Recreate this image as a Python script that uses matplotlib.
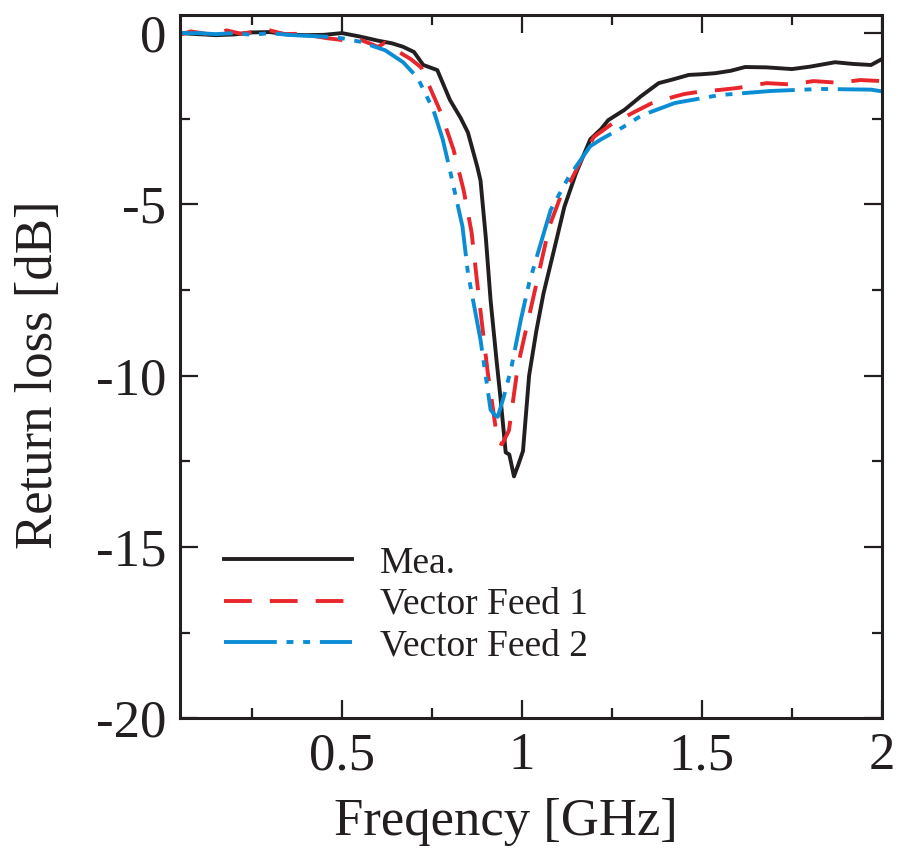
import matplotlib
matplotlib.use("Agg")
import matplotlib.pyplot as plt
from matplotlib.ticker import MultipleLocator

plt.rcParams['font.family'] = ['Liberation Serif', 'DejaVu Serif']
plt.rcParams['lines.scale_dashes'] = False

# Measured
mea_x = [0.05, 0.1, 0.15, 0.2, 0.25, 0.3, 0.35, 0.4, 0.45, 0.5, 0.55, 0.6, 0.64, 0.67, 0.70,
         0.726, 0.765, 0.80, 0.83, 0.85, 0.876, 0.885, 0.90, 0.913, 0.93, 0.941, 0.955, 0.965,
         0.978, 0.99, 1.003, 1.02, 1.04, 1.06, 1.09, 1.118, 1.15, 1.19, 1.22, 1.24, 1.285,
         1.33, 1.38, 1.42, 1.464, 1.5, 1.537, 1.58, 1.62, 1.68, 1.75, 1.8, 1.87, 1.92, 1.97, 2.0]
mea_y = [0.0, -0.03, -0.06, -0.04, 0.02, 0.03, -0.04, -0.06, -0.05, 0.0, -0.1, -0.22, -0.3,
         -0.4, -0.55, -0.93, -1.08, -1.95, -2.48, -2.9, -3.9, -4.3, -6.0, -7.8, -9.6, -10.7,
         -12.24, -12.3, -12.94, -12.6, -12.2, -10.0, -8.7, -7.6, -6.3, -5.07, -4.1, -3.1, -2.8,
         -2.54, -2.24, -1.85, -1.46, -1.35, -1.22, -1.2, -1.17, -1.1, -0.99, -1.0, -1.05, -0.98,
         -0.85, -0.9, -0.93, -0.76]

# Vector Feed 1
vf1_x = [0.05, 0.08, 0.11, 0.14, 0.18, 0.22, 0.26, 0.3, 0.34, 0.38, 0.42, 0.46, 0.5, 0.54,
         0.577, 0.6, 0.62, 0.65, 0.69, 0.72, 0.745, 0.774, 0.81, 0.838, 0.86, 0.877, 0.905,
         0.92, 0.933, 0.945, 0.964, 0.989, 1.017, 1.045, 1.076, 1.11, 1.137, 1.17, 1.2, 1.25,
         1.313, 1.36, 1.408, 1.45, 1.5, 1.548, 1.6, 1.68, 1.75, 1.81, 1.88, 1.94, 2.0]
vf1_y = [-0.05, 0.05, 0.0, -0.05, 0.08, -0.02, 0.05, 0.08, -0.03, -0.02, -0.08, -0.15, -0.2,
         -0.15, -0.3, -0.4, -0.28, -0.5, -0.75, -1.0, -1.6, -2.3, -3.4, -4.58, -5.8, -7.4, -9.9,
         -11.0, -11.95, -12.0, -11.6, -9.7, -8.4, -7.1, -5.65, -4.7, -4.29, -3.6, -3.03, -2.65,
         -2.3, -2.05, -1.9, -1.78, -1.7, -1.66, -1.6, -1.46, -1.5, -1.4, -1.45, -1.37, -1.4]

# Vector Feed 2
vf2_x = [0.05, 0.1, 0.15, 0.2, 0.25, 0.3, 0.35, 0.4, 0.45, 0.5, 0.55, 0.62, 0.67, 0.71, 0.754,
         0.78, 0.80, 0.835, 0.85, 0.885, 0.913, 0.925, 0.933, 0.95, 0.97, 0.997, 1.02, 1.045,
         1.08, 1.13, 1.19, 1.22, 1.28, 1.333, 1.425, 1.548, 1.69, 1.83, 1.97, 2.0]
vf2_y = [0.0, 0.0, -0.03, 0.0, -0.05, 0.0, -0.05, -0.08, -0.1, -0.15, -0.25, -0.5, -0.85, -1.3,
         -2.24, -3.1, -4.0, -5.65, -7.0, -8.95, -11.0, -11.15, -11.2, -10.6, -9.8, -8.37, -7.3,
         -6.4, -5.16, -4.2, -3.3, -3.1, -2.75, -2.4, -2.04, -1.81, -1.69, -1.63, -1.65, -1.7]

labels = ["Mea.", "Vector Feed 1", "Vector Feed 2"]
x_ticks = [0.5, 1, 1.5, 2]
x_ticklabels = ["0.5", "1", "1.5", "2"]
y_ticks = [0, -5, -10, -15, -20]
y_ticklabels = ["0", "-5", "-10", "-15", "-20"]

fig = plt.figure(figsize=(8.98, 8.5), dpi=100)
ax = fig.add_axes([0.2004, 0.155, 0.7816, 0.827])

ax.plot(mea_x, mea_y, color='#231f20', lw=2.8, label=labels[0])
ax.plot(vf1_x, vf1_y, color='#e8262c', lw=2.8, dashes=[20, 13], label=labels[1])
ax.plot(vf2_x, vf2_y, color='#0a8dd4', lw=2.8, dashes=[38, 7, 5, 7, 5, 7], label=labels[2])

ax.set_xlim(0.05, 2.0)
ax.set_ylim(-20, 0.52)
ax.set_xticks(x_ticks)
ax.set_xticklabels(x_ticklabels)
ax.set_yticks(y_ticks)
ax.set_yticklabels(y_ticklabels)
ax.xaxis.set_minor_locator(MultipleLocator(0.25))
ax.yaxis.set_minor_locator(MultipleLocator(2.5))
ax.tick_params(which='both', direction='in', top=True, right=True, width=1.6, colors='#231f20',
               labelcolor='#231f20', labelsize=38, pad=10)
ax.tick_params(which='major', length=13)
ax.tick_params(which='minor', length=7)
for s in ax.spines.values():
    s.set_linewidth(2.2)
    s.set_color('#231f20')

ax.set_xlabel("Freqency [GHz]", fontsize=38, color='#231f20')
ax.set_ylabel("Return loss [dB]", fontsize=38, color='#231f20')
ax.xaxis.set_label_coords(0.464, -0.114)
ax.yaxis.set_label_coords(-0.166, 0.488)

leg = ax.legend(loc='upper left', bbox_to_anchor=(0.063, 0.245), frameon=False, fontsize=27,
                handlelength=3.4, handletextpad=0.75, labelspacing=0.18, borderpad=0,
                borderaxespad=0)
for t in leg.get_texts():
    t.set_color('#231f20')

fig.savefig("out.png", dpi=100)
